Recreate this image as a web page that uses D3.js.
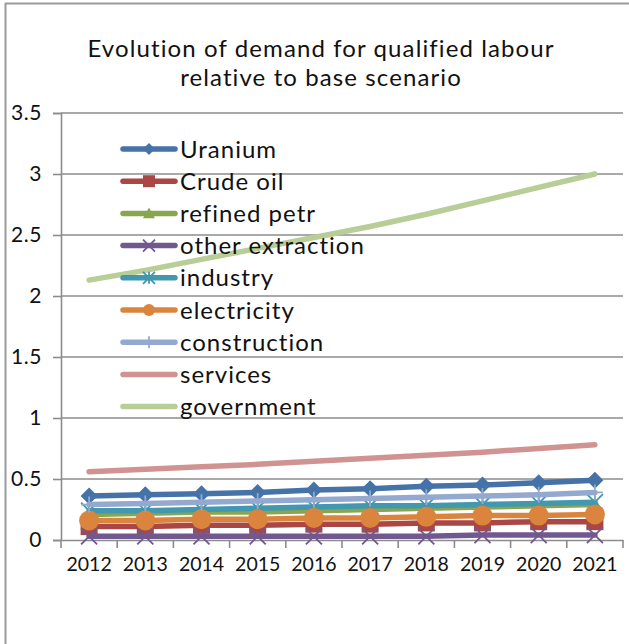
<!DOCTYPE html>
<html>
<head>
<meta charset="utf-8">
<script src="https://cdn.jsdelivr.net/npm/d3@7"></script>
<style>
  html, body { margin: 0; padding: 0; background: #fff; }
  svg { display: block; }
  text { font-family: "Lato", "DejaVu Sans", sans-serif; fill: #111; }
</style>
</head>
<body>
<svg id="chart" width="629" height="644"></svg>
<script>
// Years on the category axis
const years = ["2012", "2013", "2014", "2015", "2016", "2017", "2018", "2019", "2020", "2021"];

// Demand for qualified labour, relative to the base scenario
const uranium         = [0.36, 0.37, 0.38, 0.39, 0.41, 0.42, 0.44, 0.45, 0.47, 0.49];
const crudeOil        = [0.11, 0.11, 0.12, 0.12, 0.13, 0.13, 0.14, 0.14, 0.15, 0.15];
const refinedPetr     = [0.21, 0.22, 0.23, 0.23, 0.24, 0.25, 0.26, 0.27, 0.28, 0.29];
const otherExtraction = [0.03, 0.03, 0.03, 0.03, 0.03, 0.03, 0.03, 0.04, 0.04, 0.04];
const industry        = [0.24, 0.24, 0.25, 0.26, 0.27, 0.28, 0.28, 0.29, 0.30, 0.31];
const electricity     = [0.16, 0.16, 0.17, 0.17, 0.18, 0.18, 0.19, 0.20, 0.20, 0.21];
const construction    = [0.29, 0.30, 0.31, 0.32, 0.33, 0.34, 0.35, 0.36, 0.37, 0.39];
const services        = [0.56, 0.58, 0.60, 0.62, 0.645, 0.67, 0.695, 0.72, 0.75, 0.78];
const government      = [2.13, 2.21, 2.30, 2.39, 2.48, 2.57, 2.67, 2.78, 2.89, 3.00];

// Value-axis ticks
const yTicks = [0, 0.5, 1, 1.5, 2, 2.5, 3, 3.5];

const series = [
  { name: "Uranium",          values: uranium,         color: "#4572A7", marker: "diamond" },
  { name: "Crude oil",        values: crudeOil,        color: "#AA4643", marker: "square" },
  { name: "refined petr",     values: refinedPetr,     color: "#89A54E", marker: "triangle" },
  { name: "other extraction", values: otherExtraction, color: "#71588F", marker: "x" },
  { name: "industry",         values: industry,        color: "#4198AF", marker: "star" },
  { name: "electricity",      values: electricity,     color: "#DB843D", marker: "circle" },
  { name: "construction",     values: construction,    color: "#93A9CF", marker: "plus" },
  { name: "services",         values: services,        color: "#D19392", marker: "none" },
  { name: "government",       values: government,      color: "#B9CD96", marker: "none" }
];

const svg = d3.select("#chart");

// Outer chart frame
svg.append("line").attr("x1", 5.5).attr("x2", 5.5).attr("y1", 3).attr("y2", 644)
  .attr("stroke", "#9a9a9a").attr("stroke-width", 2);
svg.append("line").attr("x1", 5).attr("x2", 629).attr("y1", 3.5).attr("y2", 3.5)
  .attr("stroke", "#9a9a9a").attr("stroke-width", 2);

const plot = { left: 61, right: 623, top: 113, bottom: 540 };

const x = d3.scaleBand().domain(years).range([plot.left, plot.right]).padding(0);
const y = d3.scaleLinear().domain([0, 3.5]).range([plot.bottom, plot.top]);
const cx = d => x(d) + x.bandwidth() / 2;

// Title
const title = svg.append("text").attr("text-anchor", "middle")
  .style("font-size", "24px").style("letter-spacing", "1.1px");
title.append("tspan").attr("x", 321).attr("y", 57).text("Evolution of demand for qualified labour");
title.append("tspan").attr("x", 321).attr("y", 86).text("relative to base scenario");

// Horizontal gridlines
svg.append("g").selectAll("line").data(yTicks.filter(t => t > 0)).join("line")
  .attr("x1", plot.left).attr("x2", plot.right)
  .attr("y1", d => y(d)).attr("y2", d => y(d))
  .attr("stroke", "#8c8c8c").attr("stroke-width", 1.6);

// Value axis
const yAxis = svg.append("g").attr("transform", `translate(${plot.left},0)`)
  .call(d3.axisLeft(y).tickValues(yTicks).tickSize(8).tickPadding(11).tickFormat(d3.format("")));
yAxis.select(".domain").attr("stroke", "#8c8c8c").attr("stroke-width", 1.6);
yAxis.selectAll(".tick line").attr("stroke", "#8c8c8c").attr("stroke-width", 1.6);
yAxis.selectAll(".tick text").style("font-size", "21px").style("letter-spacing", "0.6px")
  .style("font-family", "Lato, sans-serif").attr("fill", "#111");

// Category axis with ticks between categories
const xAxis = svg.append("g").attr("transform", `translate(0,${plot.bottom})`)
  .call(d3.axisBottom(x).tickSize(0).tickPadding(17));
xAxis.select(".domain").attr("stroke", "#8c8c8c").attr("stroke-width", 1.6);
xAxis.selectAll(".tick text").style("font-size", "19.5px")
  .style("font-family", "Lato, sans-serif").attr("fill", "#111");
xAxis.append("g").selectAll("line").data(years.concat(["end"])).join("line")
  .attr("x1", (d, i) => plot.left + i * x.bandwidth())
  .attr("x2", (d, i) => plot.left + i * x.bandwidth())
  .attr("y1", 0).attr("y2", 8)
  .attr("stroke", "#8c8c8c").attr("stroke-width", 1.6);

// Marker shapes
function drawMarker(g, type, color, px, py, s) {
  const h = s / 2;
  switch (type) {
    case "diamond":
      g.append("path").attr("d", `M${px},${py - h}L${px + h},${py}L${px},${py + h}L${px - h},${py}Z`)
        .attr("fill", color);
      break;
    case "square":
      g.append("rect").attr("x", px - h).attr("y", py - h).attr("width", s).attr("height", s)
        .attr("fill", color);
      break;
    case "triangle":
      g.append("path").attr("d", `M${px},${py - h}L${px + h},${py + h * 0.8}L${px - h},${py + h * 0.8}Z`)
        .attr("fill", color);
      break;
    case "circle":
      g.append("circle").attr("cx", px).attr("cy", py).attr("r", h).attr("fill", color);
      break;
    case "x":
      g.append("path").attr("d", `M${px - h},${py - h}L${px + h},${py + h}M${px - h},${py + h}L${px + h},${py - h}`)
        .attr("stroke", color).attr("stroke-width", 1.8);
      break;
    case "star":
      g.append("path").attr("d", `M${px - h},${py - h}L${px + h},${py + h}M${px - h},${py + h}L${px + h},${py - h}M${px},${py - h}L${px},${py + h}`)
        .attr("stroke", color).attr("stroke-width", 1.8);
      break;
    case "plus":
      g.append("path").attr("d", `M${px - h},${py}L${px + h},${py}M${px},${py - h}L${px},${py + h}`)
        .attr("stroke", color).attr("stroke-width", 1.8);
      break;
  }
}

const markerSize = { diamond: 17, square: 17, triangle: 15, circle: 20, x: 16, star: 16, plus: 16 };

const line = d3.line().x((d, i) => cx(years[i])).y(d => y(d));

// Series, drawn in order so later series sit on top
const seriesG = svg.append("g");
series.forEach(s => {
  const g = seriesG.append("g");
  g.append("path").datum(s.values).attr("d", line)
    .attr("fill", "none").attr("stroke", s.color).attr("stroke-width", 5.5)
    .attr("stroke-linecap", "round").attr("stroke-linejoin", "round");
  if (s.marker !== "none") {
    s.values.forEach((v, i) => drawMarker(g, s.marker, s.color, cx(years[i]), y(v), markerSize[s.marker]));
  }
});

// Legend
const legend = svg.append("g");
const legendTop = 149, legendStep = 32.2;
series.forEach((s, i) => {
  const ly = legendTop + i * legendStep;
  const g = legend.append("g");
  g.append("line").attr("x1", 123).attr("x2", 175).attr("y1", ly).attr("y2", ly)
    .attr("stroke", s.color).attr("stroke-width", 5.5).attr("stroke-linecap", "round");
  if (s.marker !== "none") drawMarker(g, s.marker, s.color, 149, ly, 12);
  g.append("text").attr("x", 180).attr("y", ly).attr("dy", "0.36em")
    .style("font-size", "24px").style("letter-spacing", "1px").text(s.name);
});
</script>
</body>
</html>
